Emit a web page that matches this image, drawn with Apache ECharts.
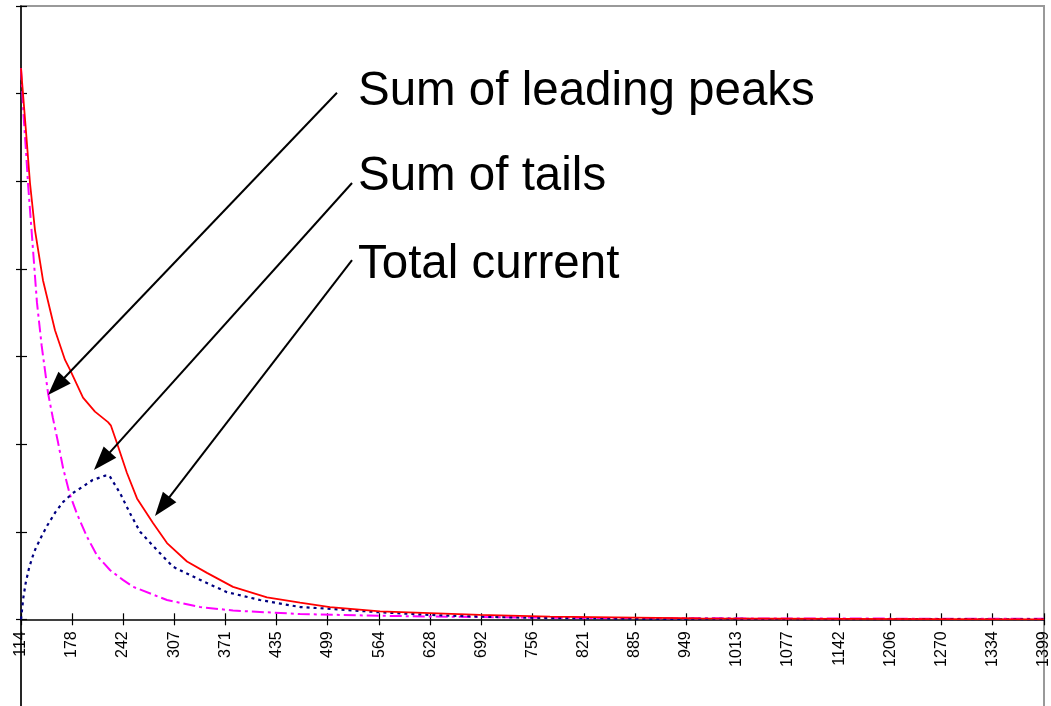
<!DOCTYPE html>
<html><head><meta charset="utf-8">
<script src="https://cdn.jsdelivr.net/npm/echarts@6/dist/echarts.min.js"></script>
<style>html,body{margin:0;padding:0;background:#fff}#c{width:1051px;height:706px}</style>
</head><body><div id="c"></div>
<script>
// x tick labels (value positions)
const xTickLabels = [114,178,242,307,371,435,499,564,628,692,756,821,885,949,1013,1077,1142,1206,1270,1334,1399];

// series values as [x, y]
const totalCurrent = [
  [114,6.29],[120,5.60],[125.3,4.98],[131.6,4.44],[141.6,3.87],[156.7,3.30],[169.3,2.96],[175.5,2.85],
  [191.9,2.53],[206.9,2.37],[223.3,2.25],[227,2.21],[234.6,2.01],[247.1,1.67],[259.7,1.38],[279.8,1.10],
  [297.4,0.87],[322.5,0.66],[347.6,0.53],[380.3,0.37],[423,0.25],[464.5,0.19],[502.1,0.14],[565,0.09],
  [627.7,0.07],[690.6,0.05],[778.5,0.03],[967,0.01],[1150,0.004],[1399,0.0]
];
const leadingPeaks = [
  [114,6.29],[117,5.78],[120,5.38],[123,4.95],[128,4.35],[134,3.62],[140,3.12],[148,2.58],[154,2.30],
  [160.5,2.02],[167,1.72],[175.5,1.42],[184,1.21],[197,0.94],[210,0.72],[226,0.56],[242,0.45],[255,0.37],
  [297.4,0.22],[338.8,0.14],[380.3,0.10],[423,0.08],[464.5,0.06],[565,0.04],[690.6,0.025],[841.3,0.015],
  [1042,0.01],[1399,0.005]
];
const sumOfTails = [
  [114,0],[117,0.25],[120,0.42],[124,0.58],[128,0.70],[132,0.80],[140,0.95],[147,1.07],[157,1.22],
  [167,1.34],[179,1.44],[191,1.51],[204,1.59],[220,1.64],[225,1.64],[238.4,1.44],[250.9,1.21],[263.5,1.00],
  [284.8,0.79],[304.9,0.60],[338.8,0.45],[372.8,0.31],[414.2,0.22],[464.5,0.14],[502.1,0.12],[565,0.08],
  [627.7,0.05],[690.6,0.03],[765.9,0.015],[900,0.005],[1399,0]
];

// annotation labels and arrows (data coordinates)
const annotationTexts = ['Sum of leading peaks','Sum of tails','Total current'];
const arrowFrom = [[510.9,6.01],[529.8,4.98],[529.8,4.10]];
const arrowTo = [[158.3,2.66],[215.7,1.806],[291.5,1.288]];

const chart = echarts.init(document.getElementById('c'), null, {renderer:'canvas'});
const FONT = '"Liberation Sans", Arial, sans-serif';
const textTop = [68.2, 153.2, 241.2];
const tickStyle = {color:'#000', width:1.2};

const option = {
  animation:false,
  backgroundColor:'#fff',
  grid:[
    // data grid: y 0..7, bottom edge is the x axis
    {left:21, right:7, top:6, height:613.3, outerBoundsMode:'none', containLabel:false, show:false},
    // frame grid: y -1..7, draws the y axis and the grey border
    {left:21, right:7, top:6, height:701, outerBoundsMode:'none', containLabel:false,
     show:true, borderColor:'#999', borderWidth:2, backgroundColor:'transparent'}
  ],
  xAxis:[
    {gridIndex:0, type:'value', min:114, max:1399, position:'bottom',
     axisLine:{onZero:false, lineStyle:{color:'#000', width:1.5}},
     splitLine:{show:false},
     axisTick:{show:true, inside:false, length:6, customValues:xTickLabels, lineStyle:tickStyle},
     axisLabel:{show:true, customValues:xTickLabels, rotate:90, margin:12, fontSize:16, color:'#000', fontFamily:FONT,
       formatter:v=>String(v)}},
    {gridIndex:0, type:'value', min:114, max:1399, position:'bottom', offset:0,
     axisLine:{onZero:false, show:false},
     splitLine:{show:false},
     axisTick:{show:true, inside:true, length:6, customValues:xTickLabels, lineStyle:tickStyle},
     axisLabel:{show:false}},
    {gridIndex:1, type:'value', min:114, max:1399, show:false}
  ],
  yAxis:[
    {gridIndex:0, type:'value', min:0, max:7, show:false},
    {gridIndex:1, type:'value', min:-1, max:7, interval:1, position:'left',
     axisLine:{show:true, onZero:false, lineStyle:{color:'#000', width:1.5}},
     axisTick:{show:true, inside:false, length:5, lineStyle:tickStyle},
     axisLabel:{show:false}, splitLine:{show:false}},
    {gridIndex:1, type:'value', min:-1, max:7, interval:1, position:'left', offset:0,
     axisLine:{show:false, onZero:false},
     axisTick:{show:true, inside:true, length:6, lineStyle:tickStyle},
     axisLabel:{show:false}, splitLine:{show:false}}
  ],
  series:[
    {name:'Sum of leading peaks', type:'line', xAxisIndex:0, yAxisIndex:0, data:leadingPeaks, showSymbol:false, smooth:false,
     lineStyle:{color:'#ff00ff', width:2, type:[12,4,3,4]}, z:3},
    {name:'Sum of tails', type:'line', xAxisIndex:0, yAxisIndex:0, data:sumOfTails, showSymbol:false, smooth:false,
     lineStyle:{color:'#000080', width:2.2, type:[3,4]}, z:3},
    {name:'Total current', type:'line', xAxisIndex:0, yAxisIndex:0, data:totalCurrent, showSymbol:false, smooth:false,
     lineStyle:{color:'#ff0000', width:1.8, type:'solid'}, z:4,
     markLine:{
       silent:true,
       symbol:['none','path://M-3.5,0L-3.5,0M20.5,0L20.5,0M8.5,0L17,24L0,24Z'],
       symbolSize:24,
       lineStyle:{color:'#000', width:2, type:'solid'}, label:{show:false},
       data: arrowFrom.map((f,i)=>[{coord:f},{coord:arrowTo[i]}])
     }}
  ],
  graphic: annotationTexts.map((t,i)=>({
    type:'text', left:358, top:textTop[i],
    style:{text:t, font:'47.5px '+FONT, fill:'#000'}
  }))
};
chart.setOption(option);
</script>
</body></html>
